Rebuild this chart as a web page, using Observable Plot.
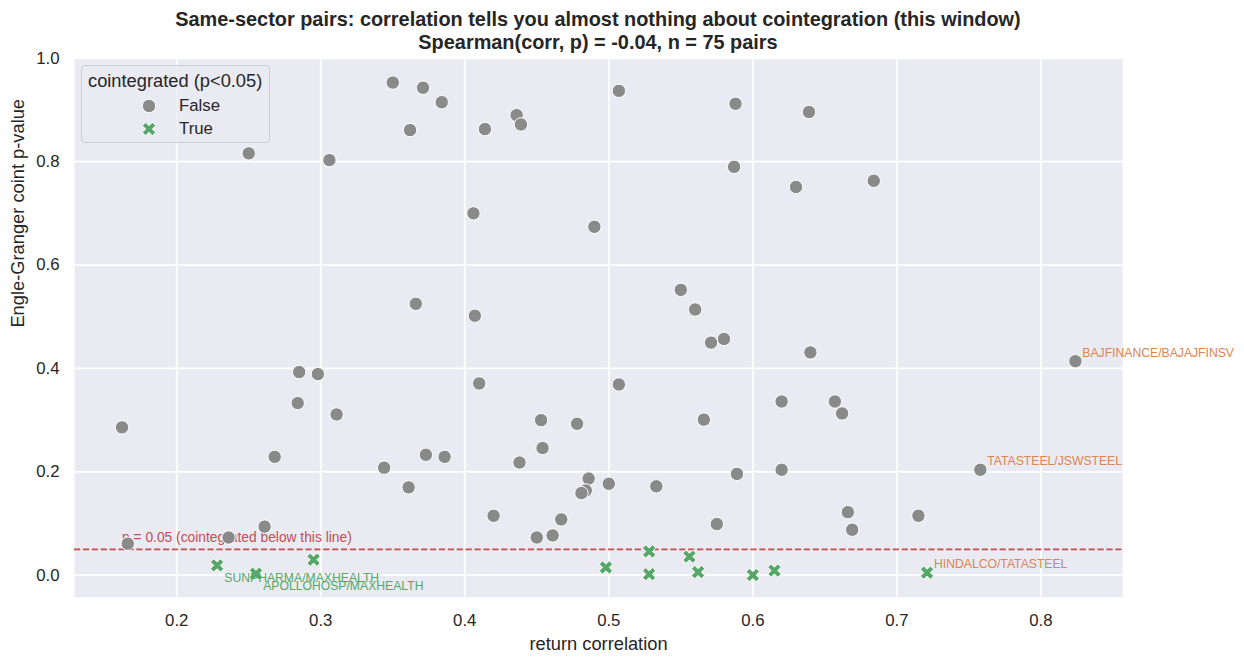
<!DOCTYPE html>
<html>
<head>
<meta charset="utf-8">
<script src="https://cdn.jsdelivr.net/npm/d3@7"></script>
<script src="https://cdn.jsdelivr.net/npm/@observablehq/plot@0.6"></script>
<style>
  body { margin: 0; background: #fff; font-family: "Liberation Sans", Arial, sans-serif; color: #262626; }
  #wrap { position: relative; width: 1244px; height: 664px; overflow: hidden; }
  #title { position: absolute; left: 0; top: 7.5px; width: 1196px; text-align: center; font-weight: bold; font-size: 19.9px; line-height: 23px; white-space: nowrap; }
  #chart { position: absolute; left: 0; top: 48px; }
  #legend { position: absolute; left: 81px; top: 64.5px; width: 189px; height: 78px; box-sizing: border-box;
            border: 1px solid #cccccc; border-radius: 4px; background: rgba(234,234,242,0.8); }
  #legend .t { position: absolute; left: 6px; top: 15.5px; transform: translateY(-50%); font-size: 18.3px; white-space: nowrap; }
  #legend .e { position: absolute; left: 97px; transform: translateY(-50%); font-size: 16.8px; white-space: nowrap; }
  #legend svg { position: absolute; left: 58px; width: 18px; height: 18px; transform: translateY(-50%); overflow: visible; }
</style>
</head>
<body>
<div id="wrap">
  <div id="title"></div>
  <div id="chart"></div>
  <div id="legend"></div>
</div>
<script>
// ---- data ----
const titleLines = [
  "Same-sector pairs: correlation tells you almost nothing about cointegration (this window)",
  "Spearman(corr, p) = -0.04, n = 75 pairs"
];
const xLabel = "return correlation";
const yLabel = "Engle-Granger coint p-value";
const legendTitle = "cointegrated (p<0.05)";
const legendValues = ["False", "True"];
const thresholdLabel = "p = 0.05 (cointegrated below this line)";
const pThreshold = 0.05;

const xTicks = [0.2, 0.3, 0.4, 0.5, 0.6, 0.7, 0.8];
const yTicks = [0.0, 0.2, 0.4, 0.6, 0.8, 1.0];

// return correlation of each pair
const corr = [
  0.350, 0.371, 0.384, 0.362, 0.250, 0.306, 0.414, 0.436, 0.439, 0.507,
  0.588, 0.639, 0.406, 0.490, 0.587, 0.630, 0.684, 0.366, 0.285, 0.298,
  0.284, 0.311, 0.162, 0.407, 0.550, 0.560, 0.571, 0.580, 0.640, 0.410,
  0.507, 0.620, 0.657, 0.662, 0.453, 0.478, 0.566, 0.824, 0.268, 0.344,
  0.373, 0.386, 0.361, 0.261, 0.236, 0.166, 0.454, 0.438, 0.486, 0.484,
  0.481, 0.500, 0.533, 0.420, 0.467, 0.450, 0.461, 0.575, 0.589, 0.620,
  0.666, 0.669, 0.758, 0.715,
  0.228, 0.255, 0.295, 0.498, 0.528, 0.528, 0.556, 0.562, 0.600, 0.615, 0.721
];
// Engle-Granger cointegration p-value of each pair
const pval = [
  0.953, 0.943, 0.915, 0.861, 0.816, 0.803, 0.863, 0.890, 0.872, 0.937,
  0.912, 0.896, 0.700, 0.674, 0.790, 0.751, 0.763, 0.525, 0.393, 0.389,
  0.333, 0.311, 0.286, 0.502, 0.552, 0.514, 0.450, 0.457, 0.431, 0.371,
  0.369, 0.336, 0.336, 0.313, 0.300, 0.293, 0.301, 0.414, 0.229, 0.208,
  0.233, 0.229, 0.170, 0.094, 0.073, 0.061, 0.246, 0.218, 0.187, 0.164,
  0.159, 0.177, 0.172, 0.115, 0.108, 0.073, 0.077, 0.099, 0.196, 0.204,
  0.122, 0.088, 0.204, 0.115,
  0.019, 0.003, 0.030, 0.015, 0.046, 0.002, 0.036, 0.006, 0.0003, 0.009, 0.005
];
// annotated pairs: name, index into the arrays above, kind
const annotNames = ["BAJFINANCE/BAJAJFINSV", "TATASTEEL/JSWSTEEL", "HINDALCO/TATASTEEL", "SUNPHARMA/MAXHEALTH", "APOLLOHOSP/MAXHEALTH"];
const annotIndex = [37, 62, 74, 64, 65];
const annotKind  = ["highCorr", "highCorr", "highCorr", "lowCorrCoint", "lowCorrCoint"];

// ---- styles ----
const FONT = '"Liberation Sans", Arial, sans-serif';
const INK = "#262626";
const GRAY = "#8a8a8a", GREEN = "#55a868", ORANGE = "#dd8452", RED = "#c44e52";
const R_DOT = 6.7, R_X = 7.1;

// filled "X" marker (matplotlib style)
const xPts = [[-1,-3],[1,-3],[1,-1],[3,-1],[3,1],[1,1],[1,3],[-1,3],[-1,1],[-3,1],[-3,-1],[-1,-1]];
const xSymbol = {
  draw(ctx, size) {
    const r = Math.sqrt(size / Math.PI), u = r / 3, c = Math.SQRT1_2;
    xPts.forEach(([x, y], i) => {
      const X = (x - y) * c * u, Y = (x + y) * c * u;
      i ? ctx.lineTo(X, Y) : ctx.moveTo(X, Y);
    });
    ctx.closePath();
  }
};

const rows = corr.map((c, i) => ({corr: c, p: pval[i], coint: pval[i] < pThreshold}));
const falseRows = rows.filter(d => !d.coint);
const trueRows = rows.filter(d => d.coint);
const annots = annotNames.map((n, k) => ({name: n, ...rows[annotIndex[k]], kind: annotKind[k]}));

document.getElementById("title").innerHTML = titleLines.map(t => `<div>${t}</div>`).join("");

const chart = Plot.plot({
  width: 1244,
  height: 616,
  marginLeft: 74,
  marginRight: 122,
  marginTop: 9.5,
  marginBottom: 67.3,
  style: {fontFamily: FONT, fontSize: "16.8px", background: "transparent", overflow: "visible", color: INK},
  x: {domain: [0.129, 0.8567], label: null},
  y: {domain: [-0.0425, 1.0005], label: null},
  marks: [
    Plot.frame({fill: "#eaeaf2", stroke: null}),
    Plot.gridX(xTicks, {stroke: "#ffffff", strokeOpacity: 1, strokeWidth: 1.75}),
    Plot.gridY(yTicks, {stroke: "#ffffff", strokeOpacity: 1, strokeWidth: 1.75}),
    Plot.axisX({ticks: xTicks, tickSize: 0, tickPadding: 17, tickFormat: d3.format(".1f"), fontSize: 16.8, fill: INK, label: null}),
    Plot.axisY({ticks: yTicks, tickSize: 0, tickPadding: 15, tickFormat: d3.format(".1f"), fontSize: 16.8, fill: INK, label: null}),
    Plot.ruleY([pThreshold], {stroke: RED, strokeWidth: 1.7, strokeDasharray: "6.2,2.7"}),
    Plot.text([thresholdLabel], {x: () => d3.min(corr), y: () => pThreshold, text: d => d, textAnchor: "start", lineAnchor: "bottom", dy: -7, fill: RED, fontSize: 13.8}),
    Plot.dot(falseRows, {x: "corr", y: "p", r: R_DOT, fill: GRAY, stroke: "#ffffff", strokeWidth: 1}),
    Plot.dot(trueRows, {x: "corr", y: "p", r: R_X, symbol: xSymbol, fill: GREEN, stroke: "#ffffff", strokeWidth: 1}),
    Plot.text(annots.filter(d => d.kind === "highCorr"), {x: "corr", y: "p", text: "name", textAnchor: "start", lineAnchor: "bottom", dx: 6.9, dy: -4.4, fill: ORANGE, fontSize: 12.2}),
    Plot.text(annots.filter(d => d.kind === "lowCorrCoint"), {x: "corr", y: "p", text: "name", textAnchor: "start", lineAnchor: "bottom", dx: 7.2, dy: 16.7, fill: GREEN, fontSize: 12.2}),
    Plot.text([xLabel], {frameAnchor: "bottom", text: d => d, lineAnchor: "middle", dy: 46.8, fill: INK, fontSize: 18.3}),
    Plot.text([yLabel], {frameAnchor: "left", text: d => d, rotate: -90, lineAnchor: "middle", dx: -56.5, fill: INK, fontSize: 18.3})
  ]
});
document.getElementById("chart").appendChild(chart);

// legend (HTML overlay inside the axes, as in the reference)
const circleSvg = `<svg viewBox="-9 -9 18 18"><circle r="${R_DOT}" fill="${GRAY}" stroke="#fff" stroke-width="1"/></svg>`;
const xPath = (() => {
  const u = R_X / 3, c = Math.SQRT1_2;
  return "M" + xPts.map(([x, y]) => `${((x - y) * c * u).toFixed(2)},${((x + y) * c * u).toFixed(2)}`).join("L") + "Z";
})();
const xSvg = `<svg viewBox="-9 -9 18 18"><path d="${xPath}" fill="${GREEN}" stroke="#fff" stroke-width="1"/></svg>`;
const lg = document.getElementById("legend");
lg.innerHTML = `<div class="t">${legendTitle}</div>` +
  `<span style="position:absolute;top:40.5px;left:0">${circleSvg}</span><div class="e" style="top:40.5px">${legendValues[0]}</div>` +
  `<span style="position:absolute;top:63.5px;left:0">${xSvg}</span><div class="e" style="top:63.5px">${legendValues[1]}</div>`;
</script>
</body>
</html>
